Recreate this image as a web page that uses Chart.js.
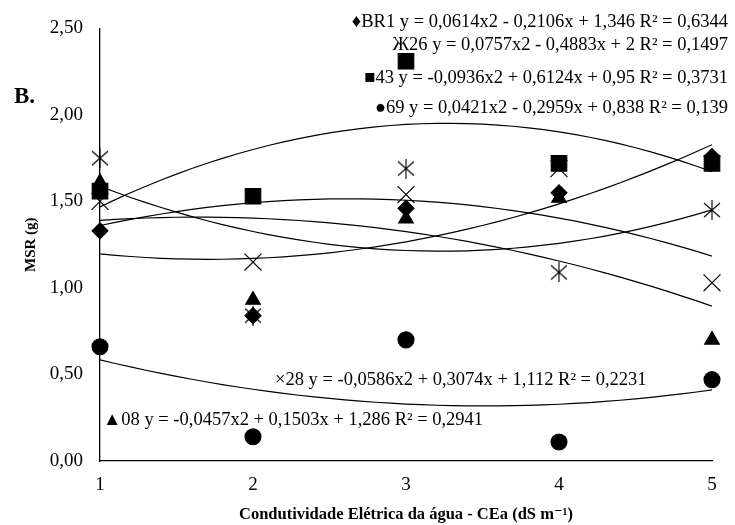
<!DOCTYPE html>
<html>
<head>
<meta charset="utf-8">
<script src="https://cdn.jsdelivr.net/npm/chart.js@4.4.1/dist/chart.umd.min.js"></script>
<style>
  html, body { margin: 0; padding: 0; background: #fff; }
  #wrap { width: 735px; height: 525px; }
</style>
</head>
<body>
<div id="wrap"><canvas id="msr" width="735" height="525"></canvas></div>
<script>
// CEa levels (dS m-1)
const ceaLevels = [1, 2, 3, 4, 5];

// MSR (g) per genotype
const br1 = [1.33, 0.84, 1.46, 1.55, 1.76];
const g26 = [1.75, 0.84, 1.69, 1.09, 1.45];
const g43 = [1.56, 1.53, 2.31, 1.72, 1.72];
const g69 = [0.66, 0.14, 0.70, 0.11, 0.47];
const g28 = [1.50, 1.15, 1.54, 1.69, 1.03];
const g08 = [1.61, 0.93, 1.40, 1.52, 0.70];

// trendline coefficients printed on the figure: [a, b, c] of y = ax2 + bx + c
const trendBR1 = [0.0614, -0.2106, 1.346];
const trend26 = [0.0757, -0.4883, 2];
const trend43 = [-0.0936, 0.6124, 0.95];
const trend69 = [0.0421, -0.2959, 0.838];
const trend28 = [-0.0586, 0.3074, 1.112];
const trend08 = [-0.0457, 0.1503, 1.286];

// equation labels as printed
const eqLabels = [
  '\u2666BR1 y = 0,0614x2 - 0,2106x + 1,346 R\u00b2 = 0,6344',
  '\u041626 y = 0,0757x2 - 0,4883x + 2 R\u00b2 = 0,1497',
  '\u25a043 y = -0,0936x2 + 0,6124x + 0,95 R\u00b2 = 0,3731',
  '\u25cf69 y = 0,0421x2 - 0,2959x + 0,838 R\u00b2 = 0,139',
  '\u00d728 y = -0,0586x2 + 0,3074x + 1,112 R\u00b2 = 0,2231',
  '\u25b208 y = -0,0457x2 + 0,1503x + 1,286 R\u00b2 = 0,2941'
];

const yTickValues = [0, 0.5, 1, 1.5, 2, 2.5];

const serif = '"Liberation Serif", "Times New Roman", "DejaVu Serif", serif';

// asterisk marker (x with a vertical bar)
function asteriskMarker() {
  const c = document.createElement('canvas');
  c.width = 20; c.height = 20;
  const g = c.getContext('2d');
  g.strokeStyle = '#000';
  g.lineWidth = 1.1;
  g.beginPath();
  g.moveTo(2, 3); g.lineTo(18, 17);
  g.moveTo(18, 3); g.lineTo(2, 17);
  g.moveTo(10, 0); g.lineTo(10, 20);
  g.stroke();
  return c;
}

function pts(ys) {
  return ceaLevels.map((x, i) => ({ x: x, y: ys[i] }));
}

// sample the printed trendline equation over the CEa range
function trendPts(k) {
  const out = [];
  for (let i = 0; i <= 40; i++) {
    const x = 1 + i * 0.1;
    out.push({ x: x, y: k[0] * x * x + k[1] * x + k[2] });
  }
  return out;
}

function markerSet(label, ys, style, radius) {
  return {
    label: label,
    data: pts(ys),
    pointStyle: style,
    pointRadius: radius,
    pointBackgroundColor: '#000',
    pointBorderColor: '#000',
    pointBorderWidth: 1.1,
    showLine: false,
    clip: false
  };
}

function trendSet(k) {
  return {
    data: trendPts(k),
    showLine: true,
    borderColor: '#000',
    borderWidth: 1.2,
    pointRadius: 0,
    tension: 0
  };
}

const textPlugin = {
  id: 'textPlugin',
  afterDraw(chart) {
    const ctx = chart.ctx;
    ctx.save();
    ctx.fillStyle = '#000';
    ctx.textBaseline = 'middle';
    ctx.font = 'bold 23px ' + serif;
    ctx.textAlign = 'left';
    ctx.fillText('B.', 14, 97);

    ctx.font = '18.5px ' + serif;
    ctx.textAlign = 'right';
    ctx.fillText(eqLabels[0], 728, 22);
    ctx.fillText(eqLabels[1], 728, 45);
    ctx.fillText(eqLabels[2], 728, 78);
    ctx.fillText(eqLabels[3], 728, 108);
    ctx.textAlign = 'left';
    ctx.fillText(eqLabels[4], 275, 380);
    ctx.fillText(eqLabels[5], 103, 420);
    ctx.restore();
  }
};

new Chart(document.getElementById('msr'), {
  type: 'scatter',
  data: {
    datasets: [
      trendSet(trendBR1), trendSet(trend26), trendSet(trend43),
      trendSet(trend69), trendSet(trend28), trendSet(trend08),
      markerSet('69', g69, 'circle', 8),
      markerSet('08', g08, 'triangle', 8.5),
      markerSet('BR1', br1, 'rectRot', 8),
      markerSet('43', g43, 'rect', 11),
      markerSet('28', g28, 'crossRot', 12),
      markerSet('26', g26, asteriskMarker(), 10)
    ]
  },
  options: {
    responsive: false,
    animation: false,
    layout: { padding: { top: 25, right: 23, left: 0, bottom: 0 } },
    plugins: {
      legend: { display: false },
      tooltip: { enabled: false }
    },
    scales: {
      x: {
        type: 'linear',
        min: 1, max: 5,
        grid: { display: false, drawTicks: false },
        border: { display: true, color: '#000', width: 1.3 },
        ticks: {
          stepSize: 1,
          color: '#000',
          padding: 13,
          font: { family: serif, size: 19 }
        },
        title: {
          display: true,
          text: 'Condutividade Elétrica da água - CEa (dS m\u207b\u00b9)',
          color: '#000',
          padding: { top: 4, bottom: 0 },
          font: { family: serif, size: 16.5, weight: 'bold' }
        },
        afterFit(scale) { scale.height = 64; }
      },
      y: {
        min: 0, max: 2.5,
        afterBuildTicks(scale) {
          scale.ticks = yTickValues.map(v => ({ value: v }));
        },
        grid: { display: false, drawTicks: false },
        border: { display: true, color: '#000', width: 1.3 },
        ticks: {
          color: '#000',
          padding: 17,
          font: { family: serif, size: 19 },
          callback: v => v.toFixed(2).replace('.', ',')
        },
        title: {
          display: true,
          text: 'MSR (g)',
          color: '#000',
          padding: { top: 22, bottom: 0 },
          font: { family: serif, size: 15, weight: 'bold' }
        },
        afterFit(scale) { scale.width = 100; }
      }
    }
  },
  plugins: [textPlugin]
});
</script>
</body>
</html>
